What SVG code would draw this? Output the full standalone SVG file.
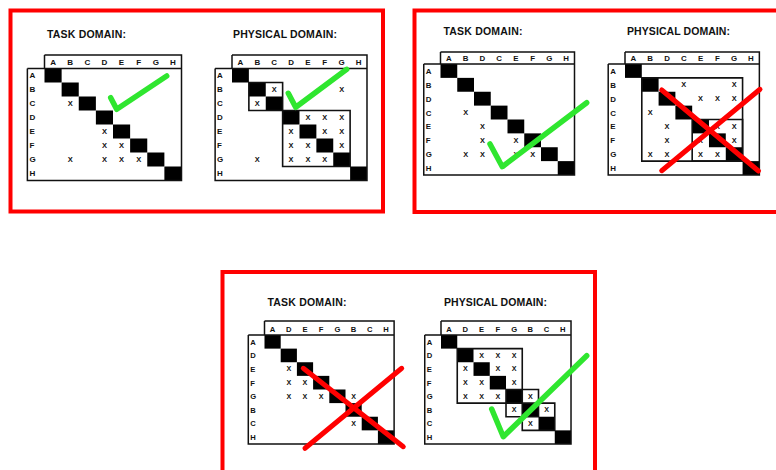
<svg xmlns="http://www.w3.org/2000/svg" width="776" height="470" viewBox="0 0 776 470">
<style>
.frame{fill:none;stroke:#ff0000;stroke-width:4}
.title{font-family:"Liberation Sans",Arial,sans-serif;font-weight:bold;font-size:10.5px;fill:#111}
.grid{fill:none;stroke:#111;stroke-width:1.5}
.lab{font-family:"Liberation Sans",Arial,sans-serif;font-weight:bold;font-size:8px;fill:#111}
.hd{text-anchor:middle}
.x{font-family:"Liberation Sans",Arial,sans-serif;font-weight:bold;font-size:7.5px;fill:#111;text-anchor:middle}
.box{fill:none;stroke:#111;stroke-width:1.6}
.chk{fill:none;stroke:#2fe62f;stroke-width:5.5;stroke-linecap:round;stroke-linejoin:round}
.cross{fill:none;stroke:#ff0000;stroke-width:5;stroke-linecap:round}
</style>
<defs>
<g id="diag" fill="#000">
<rect x="0" y="0" width="17" height="14"/><rect x="17" y="14" width="17" height="14"/><rect x="34" y="28" width="17" height="14"/><rect x="51" y="42" width="17" height="14"/><rect x="68" y="56" width="17" height="14"/><rect x="85" y="70" width="17" height="14"/><rect x="102" y="84" width="17" height="14"/><rect x="119" y="98" width="17" height="14"/>
</g>
</defs>
<g id="frames">
<rect class="frame" x="10.5" y="10.5" width="372.5" height="201"/>
<rect class="frame" x="414.5" y="10.5" width="400" height="201.5"/>
<rect class="frame" x="222.5" y="272" width="372.5" height="250"/>
</g>
<g id="titles">
<text class="title" x="47" y="38" textLength="79" lengthAdjust="spacing">TASK DOMAIN:</text>
<text class="title" x="233" y="38" textLength="104" lengthAdjust="spacing">PHYSICAL DOMAIN:</text>
<text class="title" x="443.5" y="34.5" textLength="79" lengthAdjust="spacing">TASK DOMAIN:</text>
<text class="title" x="627" y="34.5" textLength="103" lengthAdjust="spacing">PHYSICAL DOMAIN:</text>
<text class="title" x="267.5" y="305.5" textLength="79" lengthAdjust="spacing">TASK DOMAIN:</text>
<text class="title" x="444" y="305.5" textLength="103" lengthAdjust="spacing">PHYSICAL DOMAIN:</text>
</g>

<g id="m1" transform="translate(44.5,68.5) scale(1.0074,1)">
<use href="#diag"/>
<path class="grid" vector-effect="non-scaling-stroke" d="M-17,0 H136 M0,-13.5 H136 V112 H-17 V0 M0,-13.5 V0"/>
<g class="lab hd"><text x="8.5" y="-3.2">A</text><text x="25.5" y="-3.2">B</text><text x="42.5" y="-3.2">C</text><text x="59.5" y="-3.2">D</text><text x="76.5" y="-3.2">E</text><text x="93.5" y="-3.2">F</text><text x="110.5" y="-3.2">G</text><text x="127.5" y="-3.2">H</text></g>
<g class="lab"><text x="-15" y="10">A</text><text x="-15" y="24">B</text><text x="-15" y="38">C</text><text x="-15" y="52">D</text><text x="-15" y="66">E</text><text x="-15" y="80">F</text><text x="-15" y="94">G</text><text x="-15" y="108">H</text></g>
<g class="x"><text x="25.5" y="37.5">X</text><text x="59.5" y="65.5">X</text><text x="59.5" y="79.5">X</text><text x="76.5" y="79.5">X</text><text x="25.5" y="93.5">X</text><text x="59.5" y="93.5">X</text><text x="76.5" y="93.5">X</text><text x="93.5" y="93.5">X</text></g>
</g>

<g id="m2" transform="translate(232,68.5) scale(0.9926,1)">
<use href="#diag"/>
<path class="grid" vector-effect="non-scaling-stroke" d="M-17,0 H136 M0,-13.5 H136 V112 H-17 V0 M0,-13.5 V0"/>
<g class="lab hd"><text x="8.5" y="-3.2">A</text><text x="25.5" y="-3.2">B</text><text x="42.5" y="-3.2">C</text><text x="59.5" y="-3.2">D</text><text x="76.5" y="-3.2">E</text><text x="93.5" y="-3.2">F</text><text x="110.5" y="-3.2">G</text><text x="127.5" y="-3.2">H</text></g>
<g class="lab"><text x="-15" y="10">A</text><text x="-15" y="24">B</text><text x="-15" y="38">C</text><text x="-15" y="52">D</text><text x="-15" y="66">E</text><text x="-15" y="80">F</text><text x="-15" y="94">G</text><text x="-15" y="108">H</text></g>
<g class="x"><text x="42.5" y="23.5">X</text><text x="110.5" y="23.5">X</text><text x="25.5" y="37.5">X</text><text x="76.5" y="51.5">X</text><text x="93.5" y="51.5">X</text><text x="110.5" y="51.5">X</text><text x="59.5" y="65.5">X</text><text x="93.5" y="65.5">X</text><text x="110.5" y="65.5">X</text><text x="59.5" y="79.5">X</text><text x="76.5" y="79.5">X</text><text x="110.5" y="79.5">X</text><text x="25.5" y="93.5">X</text><text x="59.5" y="93.5">X</text><text x="76.5" y="93.5">X</text><text x="93.5" y="93.5">X</text></g>
<rect class="box" vector-effect="non-scaling-stroke" x="17" y="14" width="34" height="28"/>
<rect class="box" vector-effect="non-scaling-stroke" x="51" y="42" width="68" height="56"/>
</g>

<g id="m3" transform="translate(440.5,64) scale(0.9853,0.991)">
<use href="#diag"/>
<path class="grid" vector-effect="non-scaling-stroke" d="M-17,0 H136 M0,-12.1 H136 V112 H-17 V0 M0,-12.1 V0"/>
<g class="lab hd"><text x="8.5" y="-2.8">A</text><text x="25.5" y="-2.8">B</text><text x="42.5" y="-2.8">D</text><text x="59.5" y="-2.8">C</text><text x="76.5" y="-2.8">E</text><text x="93.5" y="-2.8">F</text><text x="110.5" y="-2.8">G</text><text x="127.5" y="-2.8">H</text></g>
<g class="lab"><text x="-15" y="10">A</text><text x="-15" y="24">B</text><text x="-15" y="38">D</text><text x="-15" y="52">C</text><text x="-15" y="66">E</text><text x="-15" y="80">F</text><text x="-15" y="94">G</text><text x="-15" y="108">H</text></g>
<g class="x"><text x="25.5" y="51.5">X</text><text x="42.5" y="65.5">X</text><text x="42.5" y="79.5">X</text><text x="76.5" y="79.5">X</text><text x="25.5" y="93.5">X</text><text x="42.5" y="93.5">X</text><text x="76.5" y="93.5">X</text><text x="93.5" y="93.5">X</text></g>
</g>

<g id="m4" transform="translate(625,64) scale(0.988,0.991)">
<use href="#diag"/>
<path class="grid" vector-effect="non-scaling-stroke" d="M-17,0 H136 M0,-12.1 H136 V112 H-17 V0 M0,-12.1 V0"/>
<g class="lab hd"><text x="8.5" y="-2.8">A</text><text x="25.5" y="-2.8">B</text><text x="42.5" y="-2.8">D</text><text x="59.5" y="-2.8">C</text><text x="76.5" y="-2.8">E</text><text x="93.5" y="-2.8">F</text><text x="110.5" y="-2.8">G</text><text x="127.5" y="-2.8">H</text></g>
<g class="lab"><text x="-15" y="10">A</text><text x="-15" y="24">B</text><text x="-15" y="38">D</text><text x="-15" y="52">C</text><text x="-15" y="66">E</text><text x="-15" y="80">F</text><text x="-15" y="94">G</text><text x="-15" y="108">H</text></g>
<g class="x"><text x="59.5" y="23.5">X</text><text x="110.5" y="23.5">X</text><text x="76.5" y="37.5">X</text><text x="93.5" y="37.5">X</text><text x="110.5" y="37.5">X</text><text x="25.5" y="51.5">X</text><text x="42.5" y="65.5">X</text><text x="93.5" y="65.5">X</text><text x="110.5" y="65.5">X</text><text x="42.5" y="79.5">X</text><text x="76.5" y="79.5">X</text><text x="110.5" y="79.5">X</text><text x="25.5" y="93.5">X</text><text x="42.5" y="93.5">X</text><text x="76.5" y="93.5">X</text><text x="93.5" y="93.5">X</text></g>
<rect class="box" vector-effect="non-scaling-stroke" x="17" y="14" width="102" height="84"/>
<rect class="box" vector-effect="non-scaling-stroke" x="68" y="56" width="51" height="42"/>
</g>

<g id="m5" transform="translate(264.5,335) scale(0.953,0.973)">
<use href="#diag"/>
<path class="grid" vector-effect="non-scaling-stroke" d="M-17,0 H136 M0,-14.4 H136 V112 H-17 V0 M0,-14.4 V0"/>
<g class="lab hd"><text x="8.5" y="-3">A</text><text x="25.5" y="-3">D</text><text x="42.5" y="-3">E</text><text x="59.5" y="-3">F</text><text x="76.5" y="-3">G</text><text x="93.5" y="-3">B</text><text x="110.5" y="-3">C</text><text x="127.5" y="-3">H</text></g>
<g class="lab"><text x="-15" y="10">A</text><text x="-15" y="24">D</text><text x="-15" y="38">E</text><text x="-15" y="52">F</text><text x="-15" y="66">G</text><text x="-15" y="80">B</text><text x="-15" y="94">C</text><text x="-15" y="108">H</text></g>
<g class="x"><text x="25.5" y="37.5">X</text><text x="25.5" y="51.5">X</text><text x="42.5" y="51.5">X</text><text x="25.5" y="65.5">X</text><text x="42.5" y="65.5">X</text><text x="59.5" y="65.5">X</text><text x="93.5" y="65.5">X</text><text x="93.5" y="93.5">X</text></g>
</g>

<g id="m6" transform="translate(441,335) scale(0.956,0.973)">
<use href="#diag"/>
<path class="grid" vector-effect="non-scaling-stroke" d="M-17,0 H136 M0,-14.4 H136 V112 H-17 V0 M0,-14.4 V0"/>
<g class="lab hd"><text x="8.5" y="-3">A</text><text x="25.5" y="-3">D</text><text x="42.5" y="-3">E</text><text x="59.5" y="-3">F</text><text x="76.5" y="-3">G</text><text x="93.5" y="-3">B</text><text x="110.5" y="-3">C</text><text x="127.5" y="-3">H</text></g>
<g class="lab"><text x="-15" y="10">A</text><text x="-15" y="24">D</text><text x="-15" y="38">E</text><text x="-15" y="52">F</text><text x="-15" y="66">G</text><text x="-15" y="80">B</text><text x="-15" y="94">C</text><text x="-15" y="108">H</text></g>
<g class="x"><text x="42.5" y="23.5">X</text><text x="59.5" y="23.5">X</text><text x="76.5" y="23.5">X</text><text x="25.5" y="37.5">X</text><text x="59.5" y="37.5">X</text><text x="76.5" y="37.5">X</text><text x="25.5" y="51.5">X</text><text x="42.5" y="51.5">X</text><text x="76.5" y="51.5">X</text><text x="25.5" y="65.5">X</text><text x="42.5" y="65.5">X</text><text x="59.5" y="65.5">X</text><text x="93.5" y="65.5">X</text><text x="76.5" y="79.5">X</text><text x="110.5" y="79.5">X</text><text x="93.5" y="93.5">X</text></g>
<rect class="box" vector-effect="non-scaling-stroke" x="17" y="14" width="68" height="56"/>
<rect class="box" vector-effect="non-scaling-stroke" x="68" y="56" width="34" height="28"/>
<rect class="box" vector-effect="non-scaling-stroke" x="85" y="70" width="34" height="28"/>
</g>

<g id="connectors">
<path class="chk" d="M110.7,97.7 L116.7,109.3 L166.7,76"/>
<path class="chk" d="M288.3,93.3 L295.7,107.3 L346.7,69.3"/>
<path class="chk" d="M490,144 L502.3,166.7 L586.7,102.7"/>
<path class="cross" d="M661.7,90 L758.5,171 M760,89.3 L661.7,170.7"/>
<path class="cross" d="M303.3,368.3 L403.3,446.7 M401.7,368.3 L305,448.3"/>
<path class="chk" d="M491.7,409 L503.3,436.7 L586.7,355.7"/>
</g>
</svg>
